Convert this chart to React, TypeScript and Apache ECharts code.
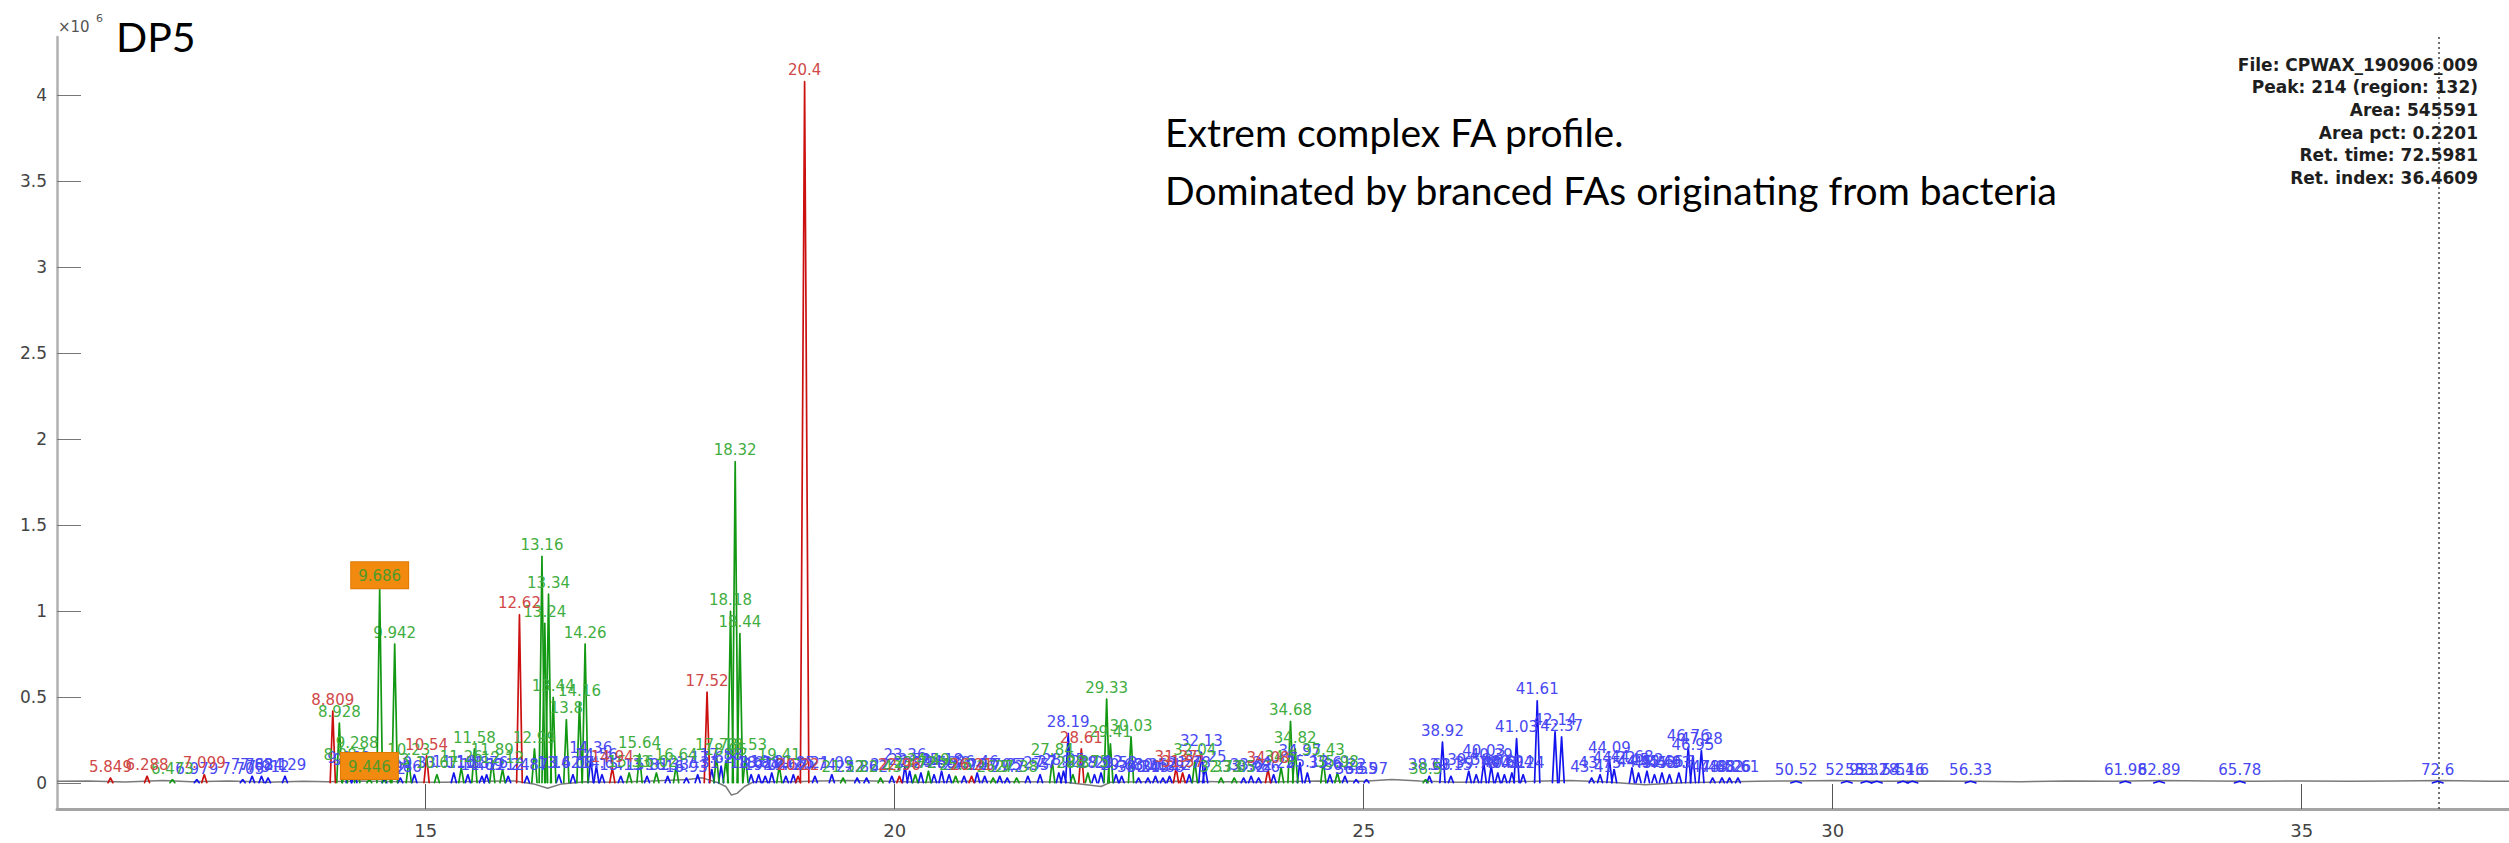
import React, { useEffect, useRef } from "react";
import * as echarts from "echarts";

// Peak annotations: retention time label, retention-index position, height (x10^6), class
const peakRT = [
  "5.849","6.288","6.473","6.979","7.099","7.705","7.762","7.834","7.912","8.129",
  "8.809","8.928","8.987","9.068","9.131","9.288","9.812","9.863","9.942","9.986",
  "10.23","10.33","10.54","10.67","11.16","11.26","11.38","11.58","11.69","11.76",
  "11.89","12.12","12.24","12.62","12.87","12.99","13.16","13.24","13.34","13.44",
  "13.62","13.8","14.08","14.16","14.26","14.36","14.56","14.61","14.94","15.13",
  "15.33","15.64","15.81","16.02","16.33","16.64","16.93","17.31","17.52","17.62",
  "17.73","17.88","18.05","18.18","18.32","18.44","18.53","18.62","18.88","19.04",
  "19.21","19.41","19.62","19.85","20.22","20.4","20.74","21.09","21.52","21.86",
  "22.02","22.43","22.77","22.96","23.36","23.52","23.72","23.94","24.49","24.66",
  "25.18","25.39","25.6","25.94","26.21","26.46","26.7","26.9","27.05","27.2",
  "27.38","27.55","27.7","27.84","27.92","28.05","28.19","28.3","28.61","28.75",
  "28.9","29.12","29.33","29.41","29.52","29.68","30.03","30.21","30.45","30.62",
  "30.88","31.12","31.37","31.57","31.78","32.04","32.13","32.25","32.73","33.05",
  "33.32","33.62","33.86","34.08","34.22","34.5","34.68","34.82","34.97","35.13",
  "35.43","35.61","35.98","36.22","36.55","36.97","38.5","38.63","38.92","39.15",
  "39.56","39.78","40.03","40.39","40.6","40.81","40.94","41.03","41.24","41.61",
  "42.14","42.37","43.41","43.75","44.09","44.22","44.68","44.92","45.2","45.43",
  "45.66","45.93","46.3","46.76","46.95","47.28","47.65","48.02","48.26","48.61",
  "50.52","52.93","53.32","53.78","54.16","54.6","56.33","61.98","62.89","65.78",
  "72.6","9.446","9.686"
];
const peakRI = [
  11.64,12.03,12.30,12.56,12.64,13.05,13.15,13.25,13.32,13.50,
  14.01,14.08,14.14,14.18,14.24,14.27,14.56,14.60,14.67,14.73,
  14.82,14.88,15.01,15.12,15.30,15.38,15.45,15.52,15.60,15.65,
  15.71,15.82,15.88,16.00,16.08,16.16,16.24,16.27,16.31,16.36,
  16.42,16.50,16.57,16.64,16.70,16.76,16.82,16.88,16.99,17.08,
  17.17,17.28,17.36,17.46,17.58,17.67,17.78,17.90,18.00,18.05,
  18.10,18.15,18.20,18.25,18.30,18.35,18.41,18.47,18.55,18.62,
  18.69,18.77,18.84,18.92,18.97,19.04,19.15,19.33,19.45,19.60,
  19.70,19.85,19.97,20.05,20.11,20.16,20.22,20.28,20.36,20.42,
  20.50,20.58,20.65,20.74,20.82,20.88,20.96,21.05,21.12,21.20,
  21.30,21.42,21.55,21.68,21.75,21.80,21.85,21.90,21.99,22.06,
  22.13,22.20,22.26,22.30,22.36,22.42,22.52,22.60,22.70,22.78,
  22.86,22.93,23.00,23.07,23.14,23.20,23.27,23.31,23.48,23.62,
  23.72,23.80,23.88,23.98,24.04,24.12,24.22,24.27,24.32,24.40,
  24.57,24.64,24.72,24.80,24.92,25.03,25.66,25.70,25.84,25.93,
  26.12,26.20,26.28,26.36,26.43,26.50,26.58,26.63,26.70,26.85,
  27.04,27.11,27.43,27.52,27.62,27.67,27.86,27.93,28.02,28.10,
  28.18,28.26,28.36,28.46,28.51,28.60,28.72,28.82,28.90,28.99,
  29.61,30.15,30.36,30.47,30.75,30.85,31.47,33.12,33.48,34.34,
  36.45,14.40,14.51
];
const peakH = [
  0.03,0.04,0.02,0.02,0.05,0.02,0.04,0.04,0.03,0.04,
  0.42,0.35,0.10,0.08,0.07,0.17,0.02,0.07,0.81,0.03,
  0.13,0.05,0.16,0.05,0.06,0.09,0.05,0.20,0.04,0.05,
  0.13,0.08,0.04,0.98,0.04,0.20,1.32,0.93,1.10,0.50,
  0.05,0.37,0.05,0.47,0.81,0.14,0.10,0.05,0.09,0.04,
  0.06,0.17,0.04,0.06,0.04,0.10,0.03,0.05,0.53,0.08,
  0.16,0.10,0.13,1.00,1.87,0.87,0.16,0.05,0.05,0.04,
  0.06,0.10,0.04,0.05,0.04,4.08,0.04,0.05,0.03,0.03,
  0.03,0.03,0.04,0.04,0.10,0.07,0.05,0.06,0.07,0.05,
  0.07,0.05,0.04,0.04,0.04,0.06,0.04,0.03,0.04,0.03,
  0.03,0.04,0.05,0.13,0.06,0.07,0.29,0.05,0.20,0.06,
  0.05,0.06,0.49,0.23,0.05,0.04,0.27,0.03,0.03,0.04,
  0.03,0.04,0.09,0.06,0.05,0.13,0.18,0.09,0.03,0.03,
  0.03,0.04,0.03,0.08,0.05,0.09,0.36,0.20,0.12,0.06,
  0.13,0.05,0.06,0.04,0.02,0.02,0.02,0.04,0.24,0.04,
  0.07,0.05,0.12,0.10,0.06,0.05,0.06,0.26,0.05,0.48,
  0.30,0.27,0.03,0.05,0.14,0.08,0.09,0.06,0.07,0.05,
  0.06,0.05,0.06,0.21,0.16,0.19,0.03,0.03,0.03,0.03,
  0.01,0.01,0.01,0.01,0.01,0.01,0.01,0.01,0.01,0.01,
  0.01,0.02,1.13
];
const peakCls =
  "rrgbrbbbbb" + "rggbbgbggb" + "gbrgbgbgbb" + "ggbrbggggg" + "bgbggbbbrb" +
  "ggbgbgbbrb" + "gbgggggbbb" + "bgbbrrbbgb" + "bgbrbbgbgb" + "bbgbrbbgbb" +
  "gbbgbbbgrg" + "bbggbbgbbb" + "bbrrbgbbgg" + "bbbrbgggbb" + "gbgbbbgbbb" +
  "bbbbbbbbbb" + "bbbbbbbbbb" + "bbbbbbbbbb" + "bbbbbbbbbb" + "bgg";
const highlightedRT = ["9.446", "9.686"];

// Grey chromatogram trace (retention index, intensity x10^6)
const baseRI = [
  11.07,11.4,11.8,12.2,12.5,12.9,13.3,13.7,13.95,14.3,14.9,15.2,15.6,15.95,16.15,16.3,16.45,
  16.7,17.0,17.4,17.8,17.95,18.1,18.2,18.26,18.32,18.4,18.5,18.9,19.2,19.5,19.9,20.3,20.8,
  21.3,21.8,22.2,22.3,23.0,23.5,24.0,24.5,25.0,25.3,25.6,26.0,26.4,26.8,27.2,27.6,28.0,28.4,
  28.8,29.2,29.6,30.0,30.5,31.0,31.5,32.0,32.5,33.0,33.5,34.0,34.5,35.0,35.5,36.0,36.5,37.0,37.21
];
const baseH = [
  0.01,0.012,0.006,0.015,0.008,0.012,0.005,0.01,0.008,0.012,0.006,0.004,0.01,0.012,-0.005,-0.03,-0.005,
  0.008,0.005,0.012,0.02,0.03,0.005,-0.02,-0.07,-0.06,-0.02,0.008,0.008,0.012,0.015,0.01,0.005,0.01,
  0.008,0.006,-0.02,0.004,0.01,0.008,0.006,0.012,0.01,0.02,0.012,0.005,0.008,0.01,0.015,0.006,-0.01,0.002,
  0.006,0.01,0.012,0.014,0.01,0.012,0.01,0.008,0.012,0.01,0.014,0.012,0.01,0.012,0.01,0.012,0.014,0.01,0.01
];

const xTicks = [15, 20, 25, 30, 35];
const yTicks = [0, 0.5, 1, 1.5, 2, 2.5, 3, 3.5, 4];
const cursorRI = 36.4609;
const infoLines = [
  "File: CPWAX_190906_009",
  "Peak: 214 (region: 132)",
  "Area: 545591",
  "Area pct: 0.2201",
  "Ret. time: 72.5981",
  "Ret. index: 36.4609",
];
const titleText = "DP5";
const noteLines = ["Extrem complex FA profile.", "Dominated by branced FAs originating from bacteria"];

const lineColor: Record<string, string> = { r: "#cc1010", g: "#129812", b: "#1414ee" };
const labelColor: Record<string, string> = { r: "#d04848", g: "#3fae3f", b: "#4848f2" };

export default function App() {
  const ref = useRef<HTMLDivElement>(null);
  useEffect(() => {
    if (!ref.current) return;
    const chart = echarts.init(ref.current, undefined, { renderer: "svg" });

    const peakSeries: any[] = [];
    const order = ["b", "g", "r"];
    const idx = peakRT.map((_, i) => i);
    idx.sort((a, b) => {
      const ha = highlightedRT.includes(peakRT[a]) ? 1 : 0;
      const hb = highlightedRT.includes(peakRT[b]) ? 1 : 0;
      if (ha !== hb) return ha - hb;
      return order.indexOf(peakCls[a]) - order.indexOf(peakCls[b]);
    });
    idx.forEach((i) => {
      const c = peakCls[i];
      const x = peakRI[i];
      const h = peakH[i];
      const w = h > 3 ? 0.045 : h > 0.5 ? 0.03 : h < 0.015 ? 0.06 : 0.028;
      const hl = highlightedRT.includes(peakRT[i]);
      peakSeries.push({
        type: "line",
        silent: true,
        symbol: "circle",
        symbolSize: 1,
        z: hl ? 5 : 3,
        itemStyle: { color: lineColor[c] },
        lineStyle: { color: lineColor[c], width: 1.7 },
        data: [
          [x - w, 0],
          {
            value: [x, h],
            label: hl
              ? {
                  show: true,
                  position: "top",
                  distance: 0,
                  formatter: peakRT[i],
                  fontFamily: "DejaVu Sans",
                  fontSize: 15,
                  color: "#4e9a2a",
                  backgroundColor: "#f28a10",
                  borderColor: "#e07800",
                  borderWidth: 1,
                  padding: [6, 7, 5, 7],
                }
              : {
                  show: true,
                  position: "top",
                  distance: 3,
                  formatter: peakRT[i],
                  fontFamily: "DejaVu Sans",
                  fontSize: 15,
                  color: labelColor[c],
                },
          },
          [x + w, 0],
        ],
      });
    });

    const option: any = {
      animation: false,
      backgroundColor: "#ffffff",
      grid: { left: 57, right: 0, top: 37, bottom: 34 },
      xAxis: {
        type: "value",
        min: 11.07,
        max: 37.21,
        axisLine: { onZero: false, lineStyle: { color: "#a4a4a4", width: 3 } },
        axisTick: { show: true, inside: true, length: 25, customValues: xTicks, lineStyle: { color: "#555", width: 1 } },
        axisLabel: { customValues: xTicks, color: "#444", fontSize: 18, fontFamily: "DejaVu Sans", margin: 12 },
        splitLine: { show: false },
      },
      yAxis: {
        type: "value",
        min: -0.151,
        max: 4.337,
        axisLine: { show: true, onZero: false, lineStyle: { color: "#b0b0b0", width: 2.5 } },
        axisTick: { show: true, inside: true, length: 24, customValues: yTicks, lineStyle: { color: "#777", width: 1 } },
        axisLabel: { customValues: yTicks, color: "#444", fontSize: 17, fontFamily: "DejaVu Sans", margin: 10 },
        splitLine: { show: false },
      },
      series: [
        {
          type: "line",
          silent: true,
          symbol: "none",
          z: 2,
          lineStyle: { color: "#7a7a7a", width: 1.5 },
          data: baseRI.map((x, i) => [x, baseH[i]]),
          markLine: {
            symbol: "none",
            silent: true,
            label: { show: false },
            lineStyle: { color: "#444", width: 1.5, type: [2, 3] },
            data: [{ xAxis: cursorRI }],
          },
        },
        ...peakSeries,
      ],
      graphic: [
        { type: "text", x: 58, y: 19, style: { text: "×10", font: "15px DejaVu Sans", fill: "#555" } },
        { type: "text", x: 96, y: 13, style: { text: "6", font: "11px DejaVu Sans", fill: "#555" } },
        { type: "text", x: 116, y: 16, style: { text: titleText, font: "41px Lato", fill: "#000" } },
        { type: "text", x: 1165, y: 112, style: { text: noteLines[0], font: "39px Lato", fill: "#000" } },
        { type: "text", x: 1165, y: 170, style: { text: noteLines[1], font: "39px Lato", fill: "#000" } },
        ...infoLines.map((t, i) => ({
          type: "text",
          x: 2478,
          y: 56 + i * 22.7,
          style: { text: t, font: "bold 17px DejaVu Sans", fill: "#1e1e1e", textAlign: "right" },
        })),
      ],
    };
    chart.setOption(option);
    return () => chart.dispose();
  }, []);
  return (
    <div
      ref={ref}
      style={{ position: "fixed", left: 0, top: 0, width: 2509, height: 843, background: "#fff" }}
    />
  );
}
